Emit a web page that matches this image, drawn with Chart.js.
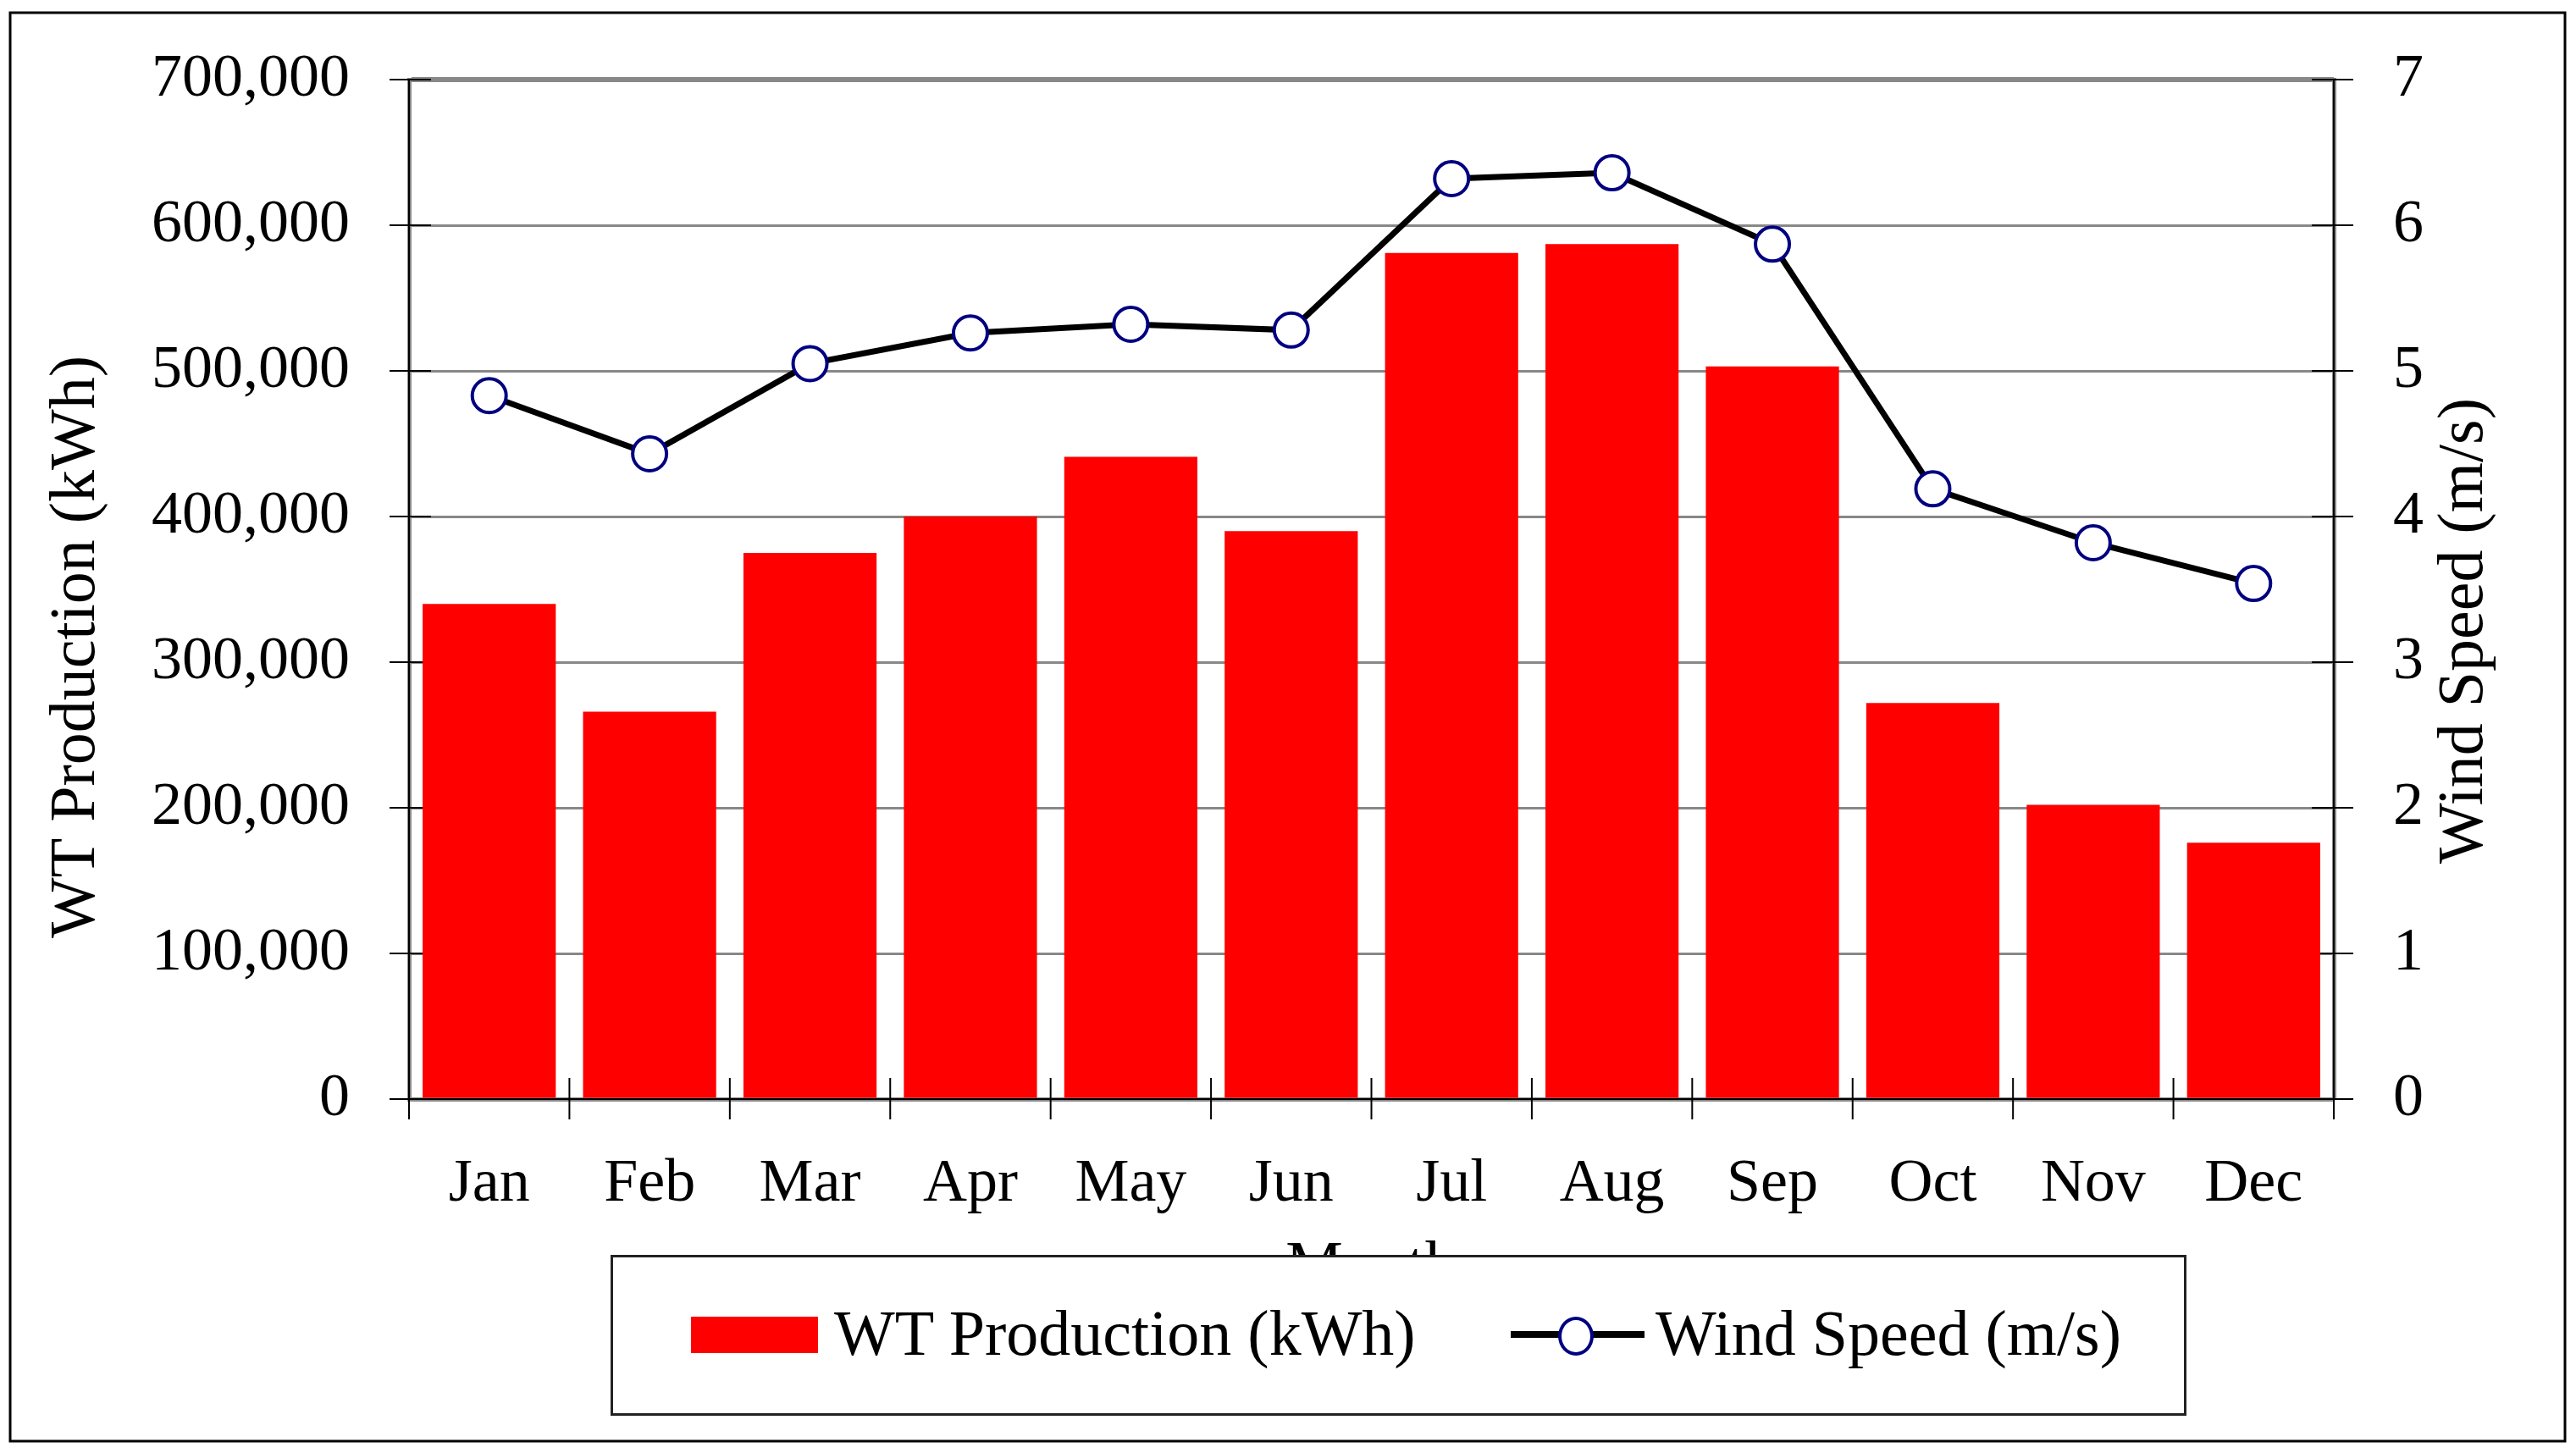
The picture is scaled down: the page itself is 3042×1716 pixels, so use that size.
<!DOCTYPE html>
<html>
<head>
<meta charset="utf-8">
<script src="https://cdn.jsdelivr.net/npm/chart.js@4.4.1/dist/chart.umd.min.js"></script>
<style>
  body { margin: 0; background: #fff; }
  #wrap { position: relative; width: 3042px; height: 1716px; }
  #legend {
    position: absolute; left: 721px; top: 1482px; width: 1855px; height: 184px;
    border: 3px solid #222; background: #fff;
    font-family: "Liberation Serif", serif; font-size: 76px; color: #000;
  }
  #legend .txt { position: absolute; line-height: 76px; white-space: nowrap; }
</style>
</head>
<body>
<div id="wrap">
  <canvas id="myChart" width="3042" height="1716"></canvas>
  <div id="legend">
    <div style="position:absolute; left:92px; top:70px; width:150px; height:43px; background:#ff0000;"></div>
    <div class="txt" style="left:261px; top:51px;">WT Production (kWh)</div>
    <div style="position:absolute; left:1060px; top:87px; width:158px; height:8px; background:#000;"></div>
    <div style="position:absolute; left:1116px; top:70px; width:34px; height:38px; border:4px solid #000080; border-radius:50%; background:#fff;"></div>
    <div class="txt" style="left:1231px; top:51px;">Wind Speed (m/s)</div>
  </div>
</div>
<script>
const months = ['Jan', 'Feb', 'Mar', 'Apr', 'May', 'Jun', 'Jul', 'Aug', 'Sep', 'Oct', 'Nov', 'Dec'];
const production = [340000, 266000, 375000, 400000, 441000, 390000, 581000, 587000, 503000, 272000, 202000, 176000];
const windSpeed = [4.83, 4.43, 5.05, 5.26, 5.32, 5.28, 6.32, 6.36, 5.87, 4.19, 3.82, 3.54];

const FONT = '"Liberation Serif", serif';

// outer frame, axis cores, crossing ticks and the two y titles
const frame = {
    id: 'frame',
    beforeDraw(chart) {
        const ctx = chart.ctx;
        ctx.save();
        ctx.fillStyle = '#fff';
        ctx.fillRect(0, 0, chart.width, chart.height);
        ctx.strokeStyle = '#000';
        ctx.lineWidth = 3;
        ctx.strokeRect(12, 15, 3017, 1687);
        ctx.restore();
    },
    beforeDatasetsDraw(chart) {
        const {ctx, chartArea: a} = chart;
        const yl = chart.scales.y, yr = chart.scales.y1;
        ctx.save();
        ctx.strokeStyle = '#000';
        ctx.lineWidth = 2;
        ctx.beginPath();
        ctx.moveTo(a.left, a.top); ctx.lineTo(a.left, a.bottom);
        ctx.moveTo(a.right, a.top); ctx.lineTo(a.right, a.bottom);
        ctx.moveTo(a.left, a.bottom); ctx.lineTo(a.right, a.bottom);
        const step = (a.right - a.left) / months.length;
        for (let i = 0; i <= months.length; i++) {
            const x = a.left + i * step;
            ctx.moveTo(x, a.bottom - 25); ctx.lineTo(x, a.bottom + 24);
        }
        yl.ticks.forEach(t => {
            const y = yl.getPixelForValue(t.value);
            ctx.moveTo(a.left - 23, y); ctx.lineTo(a.left + 26, y);
        });
        yr.ticks.forEach(t => {
            const y = yr.getPixelForValue(t.value);
            ctx.moveTo(a.right - 26, y); ctx.lineTo(a.right + 23, y);
        });
        ctx.stroke();

        ctx.fillStyle = '#000';
        ctx.font = '76px ' + FONT;
        ctx.textAlign = 'center';
        ctx.textBaseline = 'middle';
        ctx.translate(91, 764);
        ctx.rotate(-Math.PI / 2);
        ctx.fillText('WT Production (kWh)', 0, 0);
        ctx.setTransform(1, 0, 0, 1, 0, 0);
        ctx.translate(2911, 745);
        ctx.rotate(-Math.PI / 2);
        ctx.fillText('Wind Speed (m/s)', 0, 0);
        ctx.restore();
    }
};

const ctx = document.getElementById('myChart').getContext('2d');
const mychart = new Chart(ctx, {
    data: {
        labels: months,
        datasets: [
            {
                type: 'line',
                label: 'Wind Speed (m/s)',
                data: windSpeed,
                yAxisID: 'y1',
                borderColor: '#000',
                borderWidth: 7,
                pointRadius: 20,
                pointBorderWidth: 4,
                pointBorderColor: '#000080',
                pointBackgroundColor: '#fff',
                tension: 0,
                order: 0
            },
            {
                type: 'bar',
                label: 'WT Production (kWh)',
                data: production,
                yAxisID: 'y',
                backgroundColor: '#ff0000',
                categoryPercentage: 1,
                barPercentage: 0.83,
                order: 1
            }
        ]
    },
    options: {
        responsive: false,
        devicePixelRatio: 1,
        animation: false,
        layout: { padding: { left: 0, right: 0, top: 94, bottom: 0 } },
        plugins: { legend: { display: false }, tooltip: { enabled: false } },
        scales: {
            x: {
                grid: { display: true, drawOnChartArea: false, tickLength: 24, tickColor: 'rgba(0,0,0,0)' },
                border: { color: '#888', width: 5 },
                ticks: { color: '#000', font: { family: FONT, size: 72 }, padding: 34, maxRotation: 0 },
                title: { display: true, text: 'Month', color: '#000', font: { family: FONT, size: 76 }, padding: { top: 0, bottom: 172 } },
                afterFit: s => { s.height = 418; }
            },
            y: {
                position: 'left',
                min: 0, max: 700000,
                ticks: {
                    stepSize: 100000, color: '#000', padding: 47,
                    font: { family: FONT, size: 72 },
                    callback: v => v.toLocaleString('en-US')
                },
                grid: {
                    color: '#888', tickLength: 23, tickColor: 'rgba(0,0,0,0)',
                    lineWidth: c => (c.tick && c.tick.value === 700000 ? 6 : 3)
                },
                border: { color: '#888', width: 5 },
                afterFit: s => { s.width = 483; }
            },
            y1: {
                position: 'right',
                min: 0, max: 7,
                ticks: { stepSize: 1, color: '#000', padding: 47, font: { family: FONT, size: 72 } },
                grid: { drawOnChartArea: false, tickLength: 23, tickColor: 'rgba(0,0,0,0)' },
                border: { color: '#888', width: 5 },
                afterFit: s => { s.width = 286; }
            }
        }
    },
    plugins: [frame]
});
</script>
</body>
</html>
